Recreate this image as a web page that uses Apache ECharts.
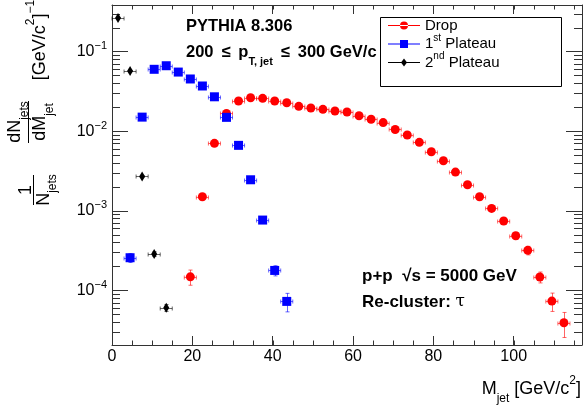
<!DOCTYPE html>
<html>
<head>
<meta charset="utf-8">
<script src="https://cdn.jsdelivr.net/npm/echarts@6.0.0/dist/echarts.min.js"></script>
<style>html,body{margin:0;padding:0;background:#fff;}#chart{width:583px;height:406px;}</style>
</head>
<body>
<div id="chart"></div>
<script>
// ---------------- data ----------------
const binHalfWidth = 1.5;

const dropM = [19.5,22.5,25.5,28.5,31.5,34.5,37.5,40.5,43.5,46.5,49.5,52.5,55.5,58.5,61.5,64.5,
               67.5,70.5,73.5,76.5,79.5,82.5,85.5,88.5,91.5,94.5,97.5,100.5,103.5,106.5,109.5,112.5];
const dropY = [1.48e-4,1.50e-3,7.03e-3,0.0167,0.0239,0.0263,0.0258,0.0239,0.0227,0.0205,0.0195,0.0188,
               0.0179,0.0174,0.0156,0.0141,0.0128,0.0105,8.93e-3,7.23e-3,5.51e-3,4.25e-3,3.06e-3,2.12e-3,
               1.50e-3,1.07e-3,7.43e-4,4.85e-4,3.18e-4,1.47e-4,7.34e-5,3.92e-5];
const dropErr = [3.2e-5,9e-5,1.9e-4,2.9e-4,3.5e-4,3.6e-4,3.6e-4,3.5e-4,3.4e-4,3.2e-4,3.1e-4,3.0e-4,
                 2.9e-4,2.9e-4,2.7e-4,2.6e-4,2.5e-4,2.2e-4,2.1e-4,1.9e-4,1.6e-4,1.4e-4,1.2e-4,1.0e-4,
                 8.5e-5,7.2e-5,6.0e-5,4.8e-5,3.9e-5,2.3e-5,1.9e-5,1.36e-5];

const plateau1M = [4.5,7.5,10.5,13.5,16.5,19.5,22.5,25.5,28.5,31.5,34.5,37.5,40.5,43.5];
const plateau1Y = [2.57e-4,0.0150,0.0598,0.0663,0.0552,0.0452,0.0369,0.0270,0.0149,6.63e-3,2.45e-3,7.64e-4,1.78e-4,7.27e-5];
const plateau1Err = [3.3e-5,2.7e-4,5.4e-4,5.6e-4,5.1e-4,4.6e-4,4.2e-4,3.6e-4,2.7e-4,1.8e-4,1.1e-4,6e-5,2.6e-5,1.9e-5];

const plateau2M = [1.5,4.5,7.5,10.5,13.5];
const plateau2Y = [0.264,0.0569,2.70e-3,2.86e-4,6.04e-5];
const plateau2Err = [8e-4,4e-4,6e-5,2e-5,6e-6];

const seriesNames = ['Drop','1st Plateau','2nd Plateau'];
const xTickLabels = [0,20,40,60,80,100];
const yTickExponents = [-4,-3,-2,-1];
const xMinorStep = 5;

// ---------------- style ----------------
const X_RANGE = [0, 117];
const Y_RANGE = [2.06e-5, 0.384];
const FONT = '"Liberation Sans", Arial, Helvetica, sans-serif';
const AXIS_COLOR = '#333';
const RED = '#ff0000', BLUE = '#0000ff', BLACK = '#000000';

function pts(ms, ys) { return ms.map((m, i) => [m, ys[i]]); }
function errs(ms, ys, es) { return ms.map((m, i) => [m, ys[i], es[i], binHalfWidth]); }

function errRender(color) {
  return function (params, api) {
    const x = api.value(0), y = api.value(1), e = api.value(2), hw = api.value(3);
    const pl = api.coord([x - hw, y]), pr = api.coord([x + hw, y]);
    const pu = api.coord([x, y + e]), pd = api.coord([x, Math.max(y - e, Y_RANGE[0] * 0.5)]);
    const c = 2;
    const yy = Math.round(pl[1]) + 0.5, xx = Math.round(pu[0]) + 0.5;
    const st = { stroke: color, lineWidth: 1, opacity: 0.6 };
    return { type: 'group', children: [
      { type: 'line', shape: { x1: pl[0], y1: yy, x2: pr[0], y2: yy }, style: st },
      { type: 'line', shape: { x1: pl[0], y1: yy - c, x2: pl[0], y2: yy + c }, style: st },
      { type: 'line', shape: { x1: pr[0], y1: yy - c, x2: pr[0], y2: yy + c }, style: st },
      { type: 'line', shape: { x1: xx, y1: pu[1], x2: xx, y2: pd[1] }, style: st },
      { type: 'line', shape: { x1: xx - c, y1: pu[1], x2: xx + c, y2: pu[1] }, style: st },
      { type: 'line', shape: { x1: xx - c, y1: pd[1], x2: xx + c, y2: pd[1] }, style: st }
    ]};
  };
}

// minor tick values (decorations, via the axes' own scales)
const yMinor = [];
for (let d = -6; d <= 0; d++) for (let k = 2; k <= 9; k++) {
  const v = k * Math.pow(10, d);
  if (v > Y_RANGE[0] && v < Y_RANGE[1]) yMinor.push([1, v]);
}
const xMinor = [];
for (let v = X_RANGE[0] + xMinorStep; v < X_RANGE[1]; v += xMinorStep) xMinor.push([v, 1e-2]);

const legendRich = {
  b: { fontFamily: FONT, fontSize: 15, color: '#000', lineHeight: 22, verticalAlign: 'middle' },
  p: { fontFamily: FONT, fontSize: 10, color: '#000', lineHeight: 10, verticalAlign: 'top' }
};
const legendText = {
  'Drop': '{b|Drop}',
  '1st Plateau': '{b|1}{p|st}{b| Plateau}',
  '2nd Plateau': '{b|2}{p|nd}{b| Plateau}'
};

const ICON_CIRCLE = 'path://M0,3.5h32v1h-32z M12,4a4,4 0 1,0 8,0a4,4 0 1,0 -8,0z';
const ICON_SQUARE = 'path://M0,3.5h32v1h-32z M12,0h8v8h-8z';
const ICON_DIAMOND = 'path://M0,3.5h32v1h-32z M16,0L19,4L16,8L13,4Z';

const axisBase = {
  axisLine: { show: true, onZero: false, lineStyle: { color: AXIS_COLOR, width: 1 } },
  splitLine: { show: false },
  minorSplitLine: { show: false }
};

const titleRich = {
  b: { fontFamily: FONT, fontSize: 18, fill: '#000', lineHeight: 30, verticalAlign: 'middle' },
  sub: { fontFamily: FONT, fontSize: 12, fill: '#000', lineHeight: 16, verticalAlign: 'bottom' },
  sup: { fontFamily: FONT, fontSize: 12, fill: '#000', lineHeight: 16, verticalAlign: 'top' }
};
const boldRich = {
  b: { fontFamily: FONT, fontWeight: 'bold', fontSize: 16.5, fill: '#000', lineHeight: 30, verticalAlign: 'middle' },
  sub: { fontFamily: FONT, fontWeight: 'bold', fontSize: 11, fill: '#000', lineHeight: 16, verticalAlign: 'bottom' },
  t: { fontFamily: '"DejaVu Serif", serif', fontSize: 17, fill: '#000', lineHeight: 30, verticalAlign: 'middle' }
};

const option = {
  animation: false,
  backgroundColor: '#fff',
  grid: { left: 112, right: 1, top: 5, bottom: 61, containLabel: false, outerBoundsMode: 'none' },
  xAxis: [
    Object.assign({}, axisBase, {
      type: 'value', position: 'bottom', min: X_RANGE[0], max: X_RANGE[1], interval: 20,
      axisTick: { show: true, inside: true, length: 9, lineStyle: { color: AXIS_COLOR } },
      axisLabel: { show: true, margin: 4, fontFamily: FONT, fontSize: 16, color: '#000',
        formatter: v => xTickLabels.includes(v) ? String(v) : '' }
    }),
    Object.assign({}, axisBase, {
      type: 'value', position: 'top', min: X_RANGE[0], max: X_RANGE[1], interval: 20,
      axisTick: { show: true, inside: true, length: 9, lineStyle: { color: AXIS_COLOR } },
      axisLabel: { show: false }
    })
  ],
  yAxis: [
    Object.assign({}, axisBase, {
      type: 'log', logBase: 10, position: 'left', min: Y_RANGE[0], max: Y_RANGE[1],
      axisTick: { show: true, inside: true, length: 16, lineStyle: { color: AXIS_COLOR } },
      axisLabel: {
        show: true, margin: 5, fontFamily: FONT, color: '#000',
        formatter: v => {
          const l = Math.log10(v), e = Math.round(l);
          if (Math.abs(l - e) > 1e-6 || !yTickExponents.includes(e)) return '';
          return '{b|10}{s|' + (e < 0 ? '\u2212' + (-e) : e) + '}';
        },
        rich: {
          b: { fontFamily: FONT, fontSize: 16, color: '#000', lineHeight: 22, verticalAlign: 'middle' },
          s: { fontFamily: FONT, fontSize: 11, color: '#000', lineHeight: 8, verticalAlign: 'top' }
        }
      }
    }),
    Object.assign({}, axisBase, {
      type: 'log', logBase: 10, position: 'right', min: Y_RANGE[0], max: Y_RANGE[1],
      axisTick: { show: true, inside: true, length: 16, lineStyle: { color: AXIS_COLOR } },
      axisLabel: { show: false }
    })
  ],
  legend: {
    show: true, orient: 'vertical', left: 388, top: 18, padding: 0, itemGap: 0,
    itemWidth: 32, itemHeight: 8, z: 5,
    data: [
      { name: seriesNames[0], icon: ICON_CIRCLE },
      { name: seriesNames[1], icon: ICON_SQUARE },
      { name: seriesNames[2], icon: ICON_DIAMOND }
    ],
    formatter: n => legendText[n],
    textStyle: { rich: legendRich, fontFamily: FONT, fontSize: 15, color: '#000' }
  },
  graphic: [
    { type: 'rect', z: 3, shape: { x: 380.5, y: 17.5, width: 181, height: 69 },
      style: { fill: '#fff', stroke: '#000', lineWidth: 1 } },
    { type: 'text', z: 6, x: 186, y: 26, style: { text: 'PYTHIA 8.306', fontFamily: FONT, fontWeight: 'bold',
      fontSize: 16.5, fill: '#000', verticalAlign: 'middle', align: 'left' } },
    { type: 'text', z: 6, x: 186, y: 52, style: {
      text: '{b|200 \u2009\u2264\u2009 p}{sub|T, jet}{b| \u2009\u2264\u2009 300 GeV/c}', verticalAlign: 'middle', align: 'left',
      rich: boldRich } },
    { type: 'text', z: 6, x: 362, y: 276, style: {
      text: '{b|p+p  \u221As = 5000 GeV}', verticalAlign: 'middle', align: 'left',
      rich: { b: Object.assign({}, boldRich.b, { fontSize: 17 }) } } },
    { type: 'text', z: 6, x: 362, y: 302, style: {
      text: '{b|Re-cluster: }{t|\u03C4}', verticalAlign: 'middle', align: 'left',
      rich: { b: Object.assign({}, boldRich.b, { fontSize: 17 }), t: boldRich.t } } },
    // x axis title
    { type: 'text', z: 6, x: 581, y: 389.5, style: {
      text: '{b|M}{sub|jet}{b| [GeV/c}{sup|2}{b|]}', verticalAlign: 'middle', align: 'right',
      rich: titleRich } },
    // y axis title, rotated (local x runs upward, local y runs rightward)
    { type: 'group', x: 0, y: 345, rotation: Math.PI / 2, z: 6, children: [
      { type: 'text', x: 305, y: 40, style: {
        text: '{b|[GeV/c}{sup|2}{b|]}{sup|\u22121}', verticalAlign: 'middle', align: 'center', rich: titleRich } },
      { type: 'text', x: 223, y: 15.5, style: {
        text: '{b|dN}{sub|jets}', verticalAlign: 'middle', align: 'center', rich: titleRich } },
      { type: 'rect', shape: { x: 202, y: 28, width: 42, height: 1 }, style: { fill: '#000' } },
      { type: 'text', x: 223, y: 40.5, style: {
        text: '{b|dM}{sub|jet}', verticalAlign: 'middle', align: 'center', rich: titleRich } },
      { type: 'text', x: 155, y: 26, style: { text: '1', fontFamily: FONT, fontSize: 18, fill: '#000',
        verticalAlign: 'middle', align: 'center' } },
      { type: 'rect', shape: { x: 140, y: 33, width: 30, height: 1 }, style: { fill: '#000' } },
      { type: 'text', x: 155, y: 44, style: {
        text: '{b|N}{sub|jets}', verticalAlign: 'middle', align: 'center', rich: titleRich } }
    ] }
  ],
  series: [
    { type: 'custom', silent: true, xAxisIndex: 0, yAxisIndex: 0, z: 1, data: yMinor,
      renderItem: (params, api) => {
        const cs = params.coordSys;
        const y = Math.round(api.coord([X_RANGE[0], api.value(1)])[1]) + 0.5;
        const st = { stroke: AXIS_COLOR, lineWidth: 1 };
        return { type: 'group', children: [
          { type: 'line', shape: { x1: cs.x, y1: y, x2: cs.x + 8, y2: y }, style: st },
          { type: 'line', shape: { x1: cs.x + cs.width - 8, y1: y, x2: cs.x + cs.width, y2: y }, style: st }
        ]};
      } },
    { type: 'custom', silent: true, xAxisIndex: 0, yAxisIndex: 0, z: 1, data: xMinor,
      renderItem: (params, api) => {
        const cs = params.coordSys;
        const x = Math.round(api.coord([api.value(0), 1e-2])[0]) + 0.5;
        const st = { stroke: AXIS_COLOR, lineWidth: 1 };
        return { type: 'group', children: [
          { type: 'line', shape: { x1: x, y1: cs.y + cs.height, x2: x, y2: cs.y + cs.height - 4.5 }, style: st },
          { type: 'line', shape: { x1: x, y1: cs.y, x2: x, y2: cs.y + 4.5 }, style: st }
        ]};
      } },
    { type: 'custom', silent: true, z: 2, data: errs(dropM, dropY, dropErr), renderItem: errRender(RED),
      encode: { x: 0, y: 1 } },
    { type: 'custom', silent: true, z: 2, data: errs(plateau1M, plateau1Y, plateau1Err), renderItem: errRender(BLUE),
      encode: { x: 0, y: 1 } },
    { type: 'custom', silent: true, z: 2, data: errs(plateau2M, plateau2Y, plateau2Err), renderItem: errRender(BLACK),
      encode: { x: 0, y: 1 } },
    { name: seriesNames[0], type: 'scatter', z: 3, symbol: 'circle', symbolSize: 9,
      itemStyle: { color: RED, opacity: 1 }, data: pts(dropM, dropY) },
    { name: seriesNames[1], type: 'scatter', z: 3, symbol: 'rect', symbolSize: 9,
      itemStyle: { color: BLUE, opacity: 1 }, data: pts(plateau1M, plateau1Y) },
    { name: seriesNames[2], type: 'scatter', z: 3, symbol: 'diamond', symbolSize: [6, 10],
      itemStyle: { color: BLACK, opacity: 1 }, data: pts(plateau2M, plateau2Y) }
  ]
};

const chart = echarts.init(document.getElementById('chart'), null, { renderer: 'canvas' });
chart.setOption(option);
</script>
</body>
</html>
